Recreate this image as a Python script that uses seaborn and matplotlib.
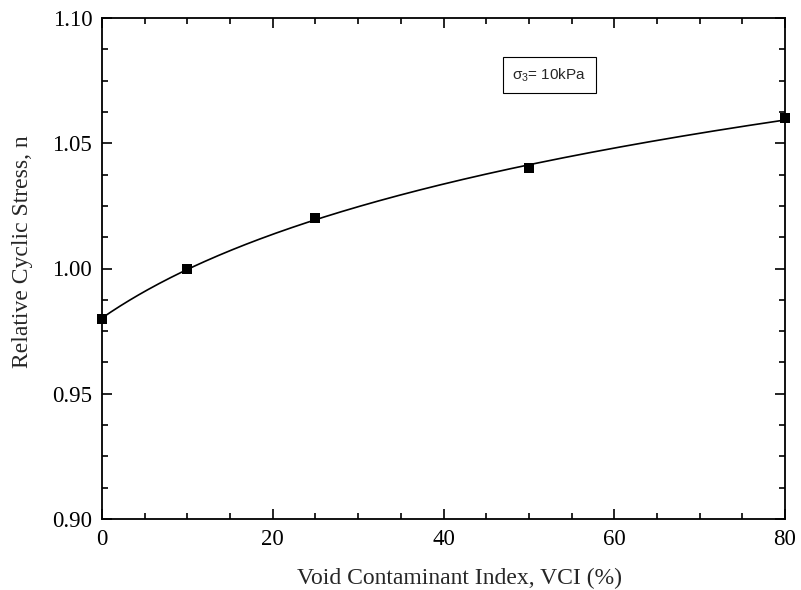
import numpy as np
import pandas as pd
import matplotlib
matplotlib.use('Agg')
import matplotlib.pyplot as plt
import seaborn as sns
from matplotlib.ticker import MultipleLocator, FormatStrFormatter

# Data
vci = [0, 10, 25, 50, 80]
rel_stress = [0.98, 1.00, 1.02, 1.04, 1.06]

df = pd.DataFrame({'VCI': vci, 'n': rel_stress})

# log trend n = a + b * ln(VCI + k), least squares over a grid of k
x = df['VCI'].to_numpy(float)
y = df['n'].to_numpy(float)
best = None
for k in np.linspace(1, 150, 1491):
    A = np.column_stack([np.ones_like(x), np.log(x + k)])
    sol = np.linalg.lstsq(A, y, rcond=None)[0]
    err = np.sum((A @ sol - y) ** 2)
    if best is None or err < best[0]:
        best = (err, k, sol)
_, k, (a, b) = best
xfit = np.linspace(0, 80, 300)
fit = pd.DataFrame({'VCI': xfit, 'n': a + b * np.log(xfit + k)})

sns.set_style('ticks')
plt.rcParams['font.family'] = ['Liberation Serif', 'DejaVu Serif']
plt.rcParams['mathtext.fontset'] = 'custom'
plt.rcParams['mathtext.rm'] = 'Liberation Sans'
plt.rcParams['mathtext.it'] = 'Liberation Sans'

fig = plt.figure(figsize=(8.01, 5.90), dpi=100)
ax = fig.add_axes([102 / 801, 1 - 519 / 590, 683 / 801, 501 / 590])

sns.lineplot(data=fit, x='VCI', y='n', color='black', linewidth=1.2, ax=ax)
sns.scatterplot(data=df, x='VCI', y='n', color='black', marker='s', s=55,
                edgecolor='black', linewidth=0, zorder=5, ax=ax, clip_on=False)

ax.set_xlim(0, 80)
ax.set_ylim(0.90, 1.10)
ax.xaxis.set_major_locator(MultipleLocator(20))
ax.xaxis.set_minor_locator(MultipleLocator(5))
ax.yaxis.set_major_locator(MultipleLocator(0.05))
ax.yaxis.set_minor_locator(MultipleLocator(0.0125))
ax.yaxis.set_major_formatter(FormatStrFormatter('%.2f'))
ax.tick_params(which='both', direction='in', top=True, right=True, width=1.2,
               labelsize=16.5, colors='black', pad=7)
ax.tick_params(which='major', length=7)
ax.tick_params(which='minor', length=4)
for sp in ax.spines.values():
    sp.set_linewidth(1.3)
    sp.set_color('black')

ax.set_xlabel('Void Contaminant Index, VCI (%)', fontsize=17)
ax.set_ylabel('Relative Cyclic Stress, n', fontsize=17)
ax.xaxis.set_label_coords(0.523, -0.098)
ax.yaxis.set_label_coords(-0.101, 0.533)

ax.text(52.4, 1.0772, r'$\sigma_3$= 10kPa', fontsize=11, family='Liberation Sans',
        ha='center', va='center',
        bbox=dict(boxstyle='square,pad=0.6', facecolor='white', edgecolor='black', linewidth=0.8))

fig.savefig('out.png', dpi=100)
